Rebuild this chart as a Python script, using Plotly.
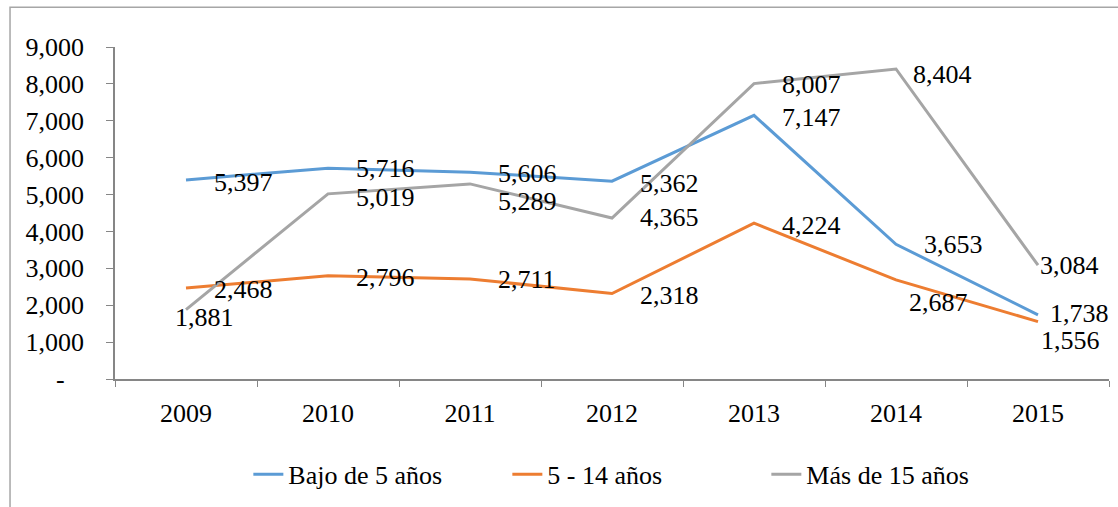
import plotly.graph_objects as go

years = ["2009", "2010", "2011", "2012", "2013", "2014", "2015"]
bajo5 = [5397, 5716, 5606, 5362, 7147, 3653, 1738]
de5a14 = [2468, 2796, 2711, 2318, 4224, 2687, 1556]
mas15 = [1881, 5019, 5289, 4365, 8007, 8404, 3084]
series_names = ["Bajo de 5 años", "5 - 14 años", "Más de 15 años"]
ytick_vals = [0, 1000, 2000, 3000, 4000, 5000, 6000, 7000, 8000, 9000]
ytick_text = ["-\u00a0\u00a0\u00a0", "1,000", "2,000", "3,000", "4,000", "5,000",
              "6,000", "7,000", "8,000", "9,000"]

colors = ["#5B9BD5", "#ED7D31", "#A5A5A5"]
FONT = "Liberation Serif, Times New Roman, serif"
FS = 26

# label offsets in px (dx, dy) for each series, per point
label_offsets = [
    [(57, -3), (57, 0), (57, -1), (57, -2), (57, -2), (57, 0), (41, 1)],
    [(57, -2), (57, -2), (57, -1), (57, -2), (57, -2), (42, -23), (32, -19)],
    [(18, -8), (57, -4), (57, -18), (57, 0), (57, -1), (46, -6), (31, 0)],
]

fig = go.Figure()
all_series = [bajo5, de5a14, mas15]
for name, vals, col in zip(series_names, all_series, colors):
    fig.add_trace(go.Scatter(x=years, y=vals, mode="lines", name=name,
                             line=dict(color=col, width=3)))

annotations = []
for vals, offs in zip(all_series, label_offsets):
    for i, (v, (dx, dy)) in enumerate(zip(vals, offs)):
        annotations.append(dict(x=i, y=v, xref="x", yref="y", text=f"{v:,}",
                                showarrow=False,
                                xanchor="center", yanchor="middle",
                                xshift=dx, yshift=dy,
                                font=dict(family=FONT, size=FS, color="black")))

fig.update_layout(
    width=1118, height=507,
    margin=dict(l=115, r=9, t=47, b=126),
    paper_bgcolor="white", plot_bgcolor="white",
    font=dict(family=FONT, size=FS, color="black"),
    annotations=annotations,
    showlegend=True,
    legend=dict(orientation="h", x=0.525, xanchor="center", y=-0.287, yanchor="middle",
                entrywidth=214,
                font=dict(family=FONT, size=FS, color="black")),
    shapes=[dict(type="rect", xref="paper", yref="paper",
                 x0=-0.1056, x1=1.03, y0=-0.45, y1=1.1198,
                 line=dict(color="#A6A6A6", width=1.5), layer="below")],
)
fig.update_xaxes(type="category", range=[-0.5, 6.5], showline=True, linecolor="#868686",
                 linewidth=1.5, ticks="outside", tickson="boundaries", ticklen=6,
                 tickcolor="#868686", showgrid=False, zeroline=False,
                 ticklabelstandoff=10)
fig.update_yaxes(range=[0, 9000], tickvals=ytick_vals, ticktext=ytick_text,
                 showline=True, linecolor="#868686", linewidth=1.5, ticks="outside",
                 ticklen=7, tickcolor="#868686", showgrid=False, zeroline=False,
                 ticklabelstandoff=17)

fig.write_html("out.html", config={"displayModeBar": False},
               post_script="document.body.style.margin='0';document.body.style.padding='0';")
